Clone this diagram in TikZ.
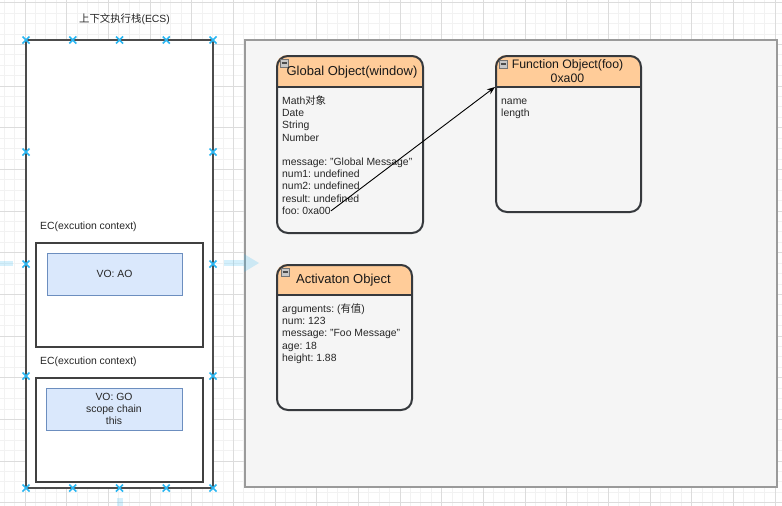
\documentclass[tikz,border=0pt]{standalone}
\usepackage{fontspec}
\setmainfont{Liberation Sans}
\newfontfamily\cjk{Noto Sans CJK SC}
\usetikzlibrary{positioning,arrows.meta}
\frenchspacing

\definecolor{gridminor}{HTML}{F2F2F2}
\definecolor{gridmajor}{HTML}{DCDCDC}
\definecolor{panelfill}{HTML}{F5F5F5}
\definecolor{panelline}{HTML}{9A9A9A}
\definecolor{vofill}{HTML}{DAE8FC}
\definecolor{voline}{HTML}{6C8EBF}
\definecolor{hdrfill}{HTML}{FFCC99}
\definecolor{objline}{HTML}{36393D}
\definecolor{handleblue}{HTML}{29B6F2}

\tikzset{
  itemtext/.style={anchor=base west, inner sep=0pt, text=black!85,
    font=\fontsize{10.4}{12.4}\selectfont},
  labeltext/.style={inner sep=0pt, text=black!85,
    font=\fontsize{10.4}{12.4}\selectfont},
  titletext/.style={inner sep=0pt, align=center, text=black!90,
    font=\fontsize{13}{14}\selectfont},
  ecsbox/.style={draw=black!70, line width=1.4pt, fill=white, inner sep=0pt},
  ecbox/.style={draw=black!75, line width=1.3pt, fill=white, inner sep=0pt},
  vobox/.style={draw=voline, line width=1pt, fill=vofill, inner sep=0pt,
    align=center, text=black!85, font=\fontsize{10.4}{12.2}\selectfont},
  panel/.style={draw=panelline, line width=1.6pt, fill=panelfill, inner sep=0pt},
  objbox/.style={draw=objline, line width=2pt, rounded corners=11pt,
    anchor=north west, inner sep=0pt},
  objsep/.style={draw=objline, line width=2pt},
  collapse/.style={draw=black!55, fill=black!22, line width=0.6pt,
    minimum size=8pt, inner sep=0pt,
    path picture={\draw[black!70, line width=1.1pt]
      ([xshift=1.5pt]path picture bounding box.west) --
      ([xshift=-1.5pt]path picture bounding box.east);}},
  handle/.style={draw=handleblue, line width=1.6pt},
  hover/.style={fill=handleblue, fill opacity=0.2},
  ref/.style={draw=black, line width=0.9pt, -{Stealth[length=8pt, width=6pt]}}
}

\begin{document}
\begin{tikzpicture}[x=1pt, y=-1pt]
    \useasboundingbox (0,0) rectangle (782,506);

    % Draw the canvas grid
    \foreach \k in {-2,...,72} \draw[gridminor, line width=0.8pt] ({25+10.4167*\k},0) -- ({25+10.4167*\k},506);
    \foreach \k in {0,...,48} \draw[gridminor, line width=0.8pt] (0,{2.7+10.4167*\k}) -- (782,{2.7+10.4167*\k});
    \foreach \k in {0,...,18} \draw[gridmajor, line width=0.9pt] ({25+41.667*\k},0) -- ({25+41.667*\k},506);
    \foreach \k in {0,...,12} \draw[gridmajor, line width=0.9pt] (0,{2.7+41.667*\k}) -- (782,{2.7+41.667*\k});

    % Execution context stack
    \node[labeltext] (ecstitle) at (124.5,19) {{\cjk 上下文执行栈}(ECS)};
    \node[ecsbox, minimum width=187pt, minimum height=448pt] (ecs) at (119.5,264) {};

    \node[labeltext, anchor=west] (ec1lbl) at (40,227) {EC(excution context)};
    \node[ecbox, minimum width=167pt, minimum height=104pt] (ec1) at (119.5,295) {};
    \node[vobox, minimum width=135pt, minimum height=42pt] (vo1) at (114.5,274) {VO: AO};

    \node[labeltext, anchor=west] (ec2lbl) at (40,362) {EC(excution context)};
    \node[ecbox, minimum width=167pt, minimum height=104pt] (ec2) at (119.5,430) {};
    \node[vobox, minimum width=136pt, minimum height=42pt] (vo2) at (114,409) {VO: GO\\scope chain\\this};

    % Heap area
    \node[panel, minimum width=532pt, minimum height=447pt] (heap) at (511,263.5) {};

    % Global Object
    \begin{scope}
      \clip (276,55) rectangle (422,87);
      \fill[hdrfill, rounded corners=11pt] (276,55) rectangle (422,232);
    \end{scope}
    \node[objbox, minimum width=146pt, minimum height=177pt] (globj) at (276,55) {};
    \draw[objsep] ([yshift=-32pt]globj.north west) -- ([yshift=-32pt]globj.north east);
    \node[collapse] (globjicon) at (284,63) {};
    \node[titletext] (globjtitle) at (352,72) {Global Object(window)};
    \foreach \t [count=\i] in {Math{\cjk 对象}, Date, String, Number}
      \node[itemtext] (gitem\i) at (282,{91.6+12.4*\i}) {\t};
    \foreach \t [count=\i] in {message: "Global Message", num1: undefined, num2: undefined, result: undefined, foo: 0xa00}
      \node[itemtext] (gvar\i) at (282,{152.6+12.4*\i}) {\t};

    % Function Object
    \begin{scope}
      \clip (495,55) rectangle (640,87);
      \fill[hdrfill, rounded corners=11pt] (495,55) rectangle (640,211);
    \end{scope}
    \node[objbox, minimum width=145pt, minimum height=156pt] (fnobj) at (495,55) {};
    \draw[objsep] ([yshift=-32pt]fnobj.north west) -- ([yshift=-32pt]fnobj.north east);
    \node[collapse] (fnobjicon) at (503,64) {};
    \node[titletext, font=\fontsize{12.3}{14}\selectfont] (fnobjtitle) at (567.5,71.5) {Function Object(foo)\\0xa00};
    \node[itemtext] (fitem1) at (501,104) {name};
    \node[itemtext] (fitem2) at (501,116.4) {length};

    % Activation Object
    \begin{scope}
      \clip (276,264) rectangle (411,295);
      \fill[hdrfill, rounded corners=11pt] (276,264) rectangle (411,409);
    \end{scope}
    \node[objbox, minimum width=135pt, minimum height=145pt] (acobj) at (276,264) {};
    \draw[objsep] ([yshift=-31pt]acobj.north west) -- ([yshift=-31pt]acobj.north east);
    \node[collapse] (acobjicon) at (285,272) {};
    \node[titletext] (acobjtitle) at (343.5,280) {Activaton Object};
    \foreach \t [count=\i] in {arguments: ({\cjk 有值}), num: 123, message: "Foo Message", age: 18, height: 1.88}
      \node[itemtext] (avar\i) at (282,{299.6+12.4*\i}) {\t};

    % Reference from foo to the function object
    \draw[ref] (gvar5.east) -- ([yshift=-32pt]fnobj.north west);

    % Selection handles
    \foreach \x in {26,72.75,119.5,166.25,213}
      \foreach \y in {40,488}
        \draw[handle] ({\x-3.5},{\y-3.5}) -- ({\x+3.5},{\y+3.5}) ({\x-3.5},{\y+3.5}) -- ({\x+3.5},{\y-3.5});
    \foreach \x in {26,213}
      \foreach \y in {152,264,376}
        \draw[handle] ({\x-3.5},{\y-3.5}) -- ({\x+3.5},{\y+3.5}) ({\x-3.5},{\y+3.5}) -- ({\x+3.5},{\y-3.5});

    % Hover arrows
    \fill[hover] (0,261) rectangle (13,266);
    \fill[hover] (224,260) rectangle (244,266);
    \fill[hover] (244,254) -- (259,263) -- (244,272) -- cycle;
    \fill[hover] (117,498) rectangle (123,506);
\end{tikzpicture}
\end{document}
